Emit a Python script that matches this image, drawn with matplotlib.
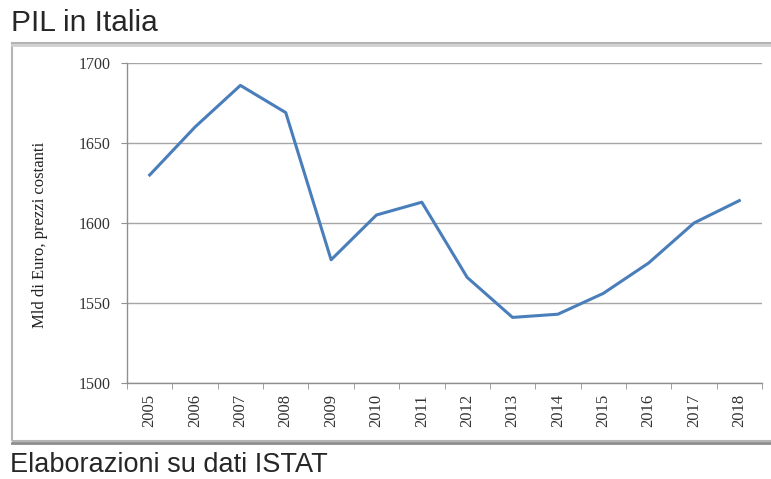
import matplotlib
matplotlib.use("Agg")
import matplotlib.pyplot as plt
from matplotlib.patches import Rectangle

years = ["2005", "2006", "2007", "2008", "2009", "2010", "2011",
         "2012", "2013", "2014", "2015", "2016", "2017", "2018"]
pil = [1630, 1660, 1686, 1669, 1577, 1605, 1613,
       1566, 1541, 1543, 1556, 1575, 1600, 1614]
y_ticks = [1500, 1550, 1600, 1650, 1700]

title = "PIL in Italia"
footer = "Elaborazioni su dati ISTAT"
ylabel = "Mld di Euro, prezzi costanti"

W, H = 771, 479
fig = plt.figure(figsize=(W / 100, H / 100), dpi=100)
fig.patch.set_facecolor("white")

# outer frame
frame = Rectangle((12 / W, 1 - 441 / H), (W + 5 - 12) / W, (441 - 43) / H,
                  transform=fig.transFigure, fill=False,
                  edgecolor="#b4b4b4", linewidth=1.5)
fig.add_artist(frame)
fig.add_artist(plt.Line2D([12 / W, 1], [1 - 443 / H, 1 - 443 / H],
                          transform=fig.transFigure, color="#8c8c8c", lw=2))
fig.add_artist(plt.Line2D([12 / W, 1], [1 - 44.5 / H, 1 - 44.5 / H],
                          transform=fig.transFigure, color="#cfcfcf", lw=2))

fig.text(11 / W, 1 - 23 / H, title, fontsize=21.5, family="Liberation Sans",
         color="#262626", va="center", ha="left")
fig.text(10 / W, 1 - 465 / H, footer, fontsize=19.5, family="Liberation Sans",
         color="#262626", va="center", ha="left")

ax = fig.add_axes([127 / W, 1 - 383 / H, (762 - 127) / W, (383 - 63) / H])
x = list(range(len(years)))
ax.plot(x, pil, color="#4a7ebb", lw=2.2, solid_joinstyle="round")

ax.set_xlim(-0.5, len(years) - 0.5)
ax.set_ylim(1500, 1700)
ax.set_yticks(y_ticks)
ax.set_yticklabels([str(v) for v in y_ticks], family="Liberation Serif",
                   fontsize=11.5, color="#333333")
ax.set_xticks(x)
ax.set_xticklabels(years, rotation=90, family="Liberation Serif",
                   fontsize=12, color="#333333")
ax.tick_params(axis="x", which="major", length=0, pad=8)
ax.set_xticks([i - 0.5 for i in range(len(years) + 1)], minor=True)
ax.tick_params(axis="x", which="minor", length=4, color="#909090", direction="out")
ax.tick_params(axis="y", length=4, color="#909090", direction="out", pad=8)

ax.grid(axis="y", color="#a6a6a6", lw=1)
ax.set_axisbelow(True)
for s in ["top", "right"]:
    ax.spines[s].set_visible(False)
for s in ["left", "bottom"]:
    ax.spines[s].set_color("#909090")
    ax.spines[s].set_linewidth(1)

ax.set_ylabel(ylabel, family="Liberation Serif", fontsize=12, color="#222222",
              va="center")
ax.yaxis.set_label_coords((40 - 127) / 635, (383 - 235) / 320)

fig.savefig("out.png", dpi=100, facecolor="white")
